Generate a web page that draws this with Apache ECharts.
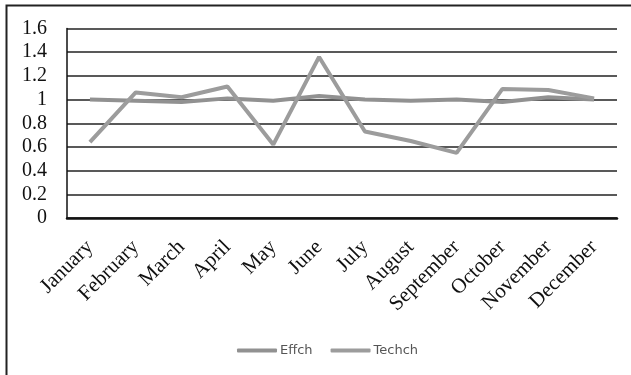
<!DOCTYPE html>
<html>
<head>
<meta charset="utf-8">
<script src="https://cdn.jsdelivr.net/npm/echarts@6/dist/echarts.min.js"></script>
<style>
  html, body { margin: 0; padding: 0; background: #fff; }
  #chart { width: 631px; height: 375px; }
</style>
</head>
<body>
<div id="chart"></div>
<script>
const months = ['January', 'February', 'March', 'April', 'May', 'June',
  'July', 'August', 'September', 'October', 'November', 'December'];
const effch = [1.00, 0.99, 0.98, 1.01, 0.99, 1.03, 1.00, 0.99, 1.00, 0.98, 1.02, 1.00];
const techch = [0.64, 1.06, 1.02, 1.11, 0.62, 1.36, 0.73, 0.65, 0.55, 1.09, 1.08, 1.01];
const yTicks = { min: 0, max: 1.6, step: 0.2 };

const serif = '"Liberation Serif", "DejaVu Serif", serif';
const chart = echarts.init(document.getElementById('chart'), null, { renderer: 'canvas' });

chart.setOption({
  animation: false,
  backgroundColor: '#fff',
  graphic: [{
    type: 'rect',
    shape: { x: 6.5, y: 5.5, width: 800, height: 600 },
    style: { fill: 'none', stroke: '#222', lineWidth: 2 },
    silent: true
  }],
  grid: { left: 67, right: 14, top: 28.5, bottom: 157, containLabel: false },
  legend: {
    data: ['Effch', 'Techch'],
    left: 232,
    top: 339,
    icon: 'roundRect',
    itemWidth: 40,
    itemHeight: 4,
    itemGap: 18,
    textStyle: { fontFamily: '"DejaVu Sans", sans-serif', fontSize: 13, color: '#555', padding: [0, 0, 0, -2] }
  },
  xAxis: {
    type: 'category',
    data: months,
    boundaryGap: true,
    axisLine: { show: true, lineStyle: { color: '#111', width: 2.5 } },
    axisTick: { show: false },
    axisLabel: {
      rotate: 45,
      interval: 0,
      margin: 26,
      fontFamily: serif,
      fontSize: 21,
      color: '#111'
    }
  },
  yAxis: {
    type: 'value',
    min: yTicks.min,
    max: yTicks.max,
    interval: yTicks.step,
    axisLine: { show: true, lineStyle: { color: '#111', width: 1.5 } },
    axisTick: { show: false },
    axisLabel: {
      margin: 20,
      fontFamily: serif,
      fontSize: 20,
      color: '#111',
      formatter: v => String(Math.round(v * 10) / 10)
    },
    splitLine: { show: true, lineStyle: { color: '#222', width: 1.5 } }
  },
  series: [
    {
      name: 'Effch',
      type: 'line',
      data: effch,
      showSymbol: false,
      symbol: 'none',
      lineStyle: { color: '#919191', width: 4 },
      itemStyle: { color: '#919191' }
    },
    {
      name: 'Techch',
      type: 'line',
      data: techch,
      showSymbol: false,
      symbol: 'none',
      lineStyle: { color: '#9c9c9c', width: 4 },
      itemStyle: { color: '#9c9c9c' }
    }
  ]
});
</script>
</body>
</html>
